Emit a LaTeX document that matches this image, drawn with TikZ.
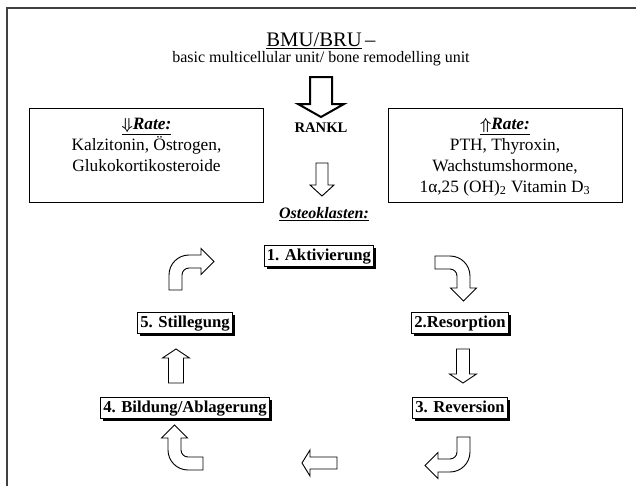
\documentclass[tikz,border=0pt]{standalone}
\usepackage{fontspec}
\setmainfont{Liberation Serif}
\usepackage{tikz}
\usetikzlibrary{arrows,shapes,shadows,calc}
\tikzstyle{stage}=[draw,line width=1pt,fill=white,font=\bfseries\fontsize{12.5}{14}\selectfont,inner xsep=2pt,inner ysep=2pt,text height=9pt,text depth=3pt,drop shadow={shadow xshift=2pt,shadow yshift=-2pt,fill=black,opacity=1}]
\tikzstyle{ratebox}=[draw,line width=0.6pt,minimum width=175.5pt,minimum height=70.5pt,inner sep=0pt]
\tikzstyle{ratetext}=[align=center,font=\fontsize{13}{15.8}\selectfont,inner sep=0pt,anchor=north]
\tikzstyle{blockarrow}=[draw,fill=white,line width=0.7pt,line join=miter]
\tikzstyle{frame}=[draw=black!75,line width=0.9pt]

% bent arrow: shaft goes up, turns right
\newcommand{\bentarrow}[2]{%
  \draw[blockarrow,shift={#1},rotate=#2] (0,0) -- (0,-15)
    arc[start angle=180,end angle=270,radius=20] -- (32,-35) -- (32,-41.5)
    -- (45,-28.5) -- (32,-15.5) -- (32,-22) -- (20,-22)
    arc[start angle=270,end angle=180,radius=7] -- (13,0) -- cycle;}
% straight arrow: pointing down from its shaft top
\newcommand{\stemarrow}[7][]{%
  \draw[blockarrow,#1,shift={#2},rotate=#3] (-#4/2,0) -- (-#4/2,#6) -- (-#5/2,#6)
    -- (0,#6+#7) -- (#5/2,#6) -- (#4/2,#6) -- (#4/2,0) -- cycle;}

\begin{document}
\begin{tikzpicture}[x=0.75pt,y=-0.75pt]
		\useasboundingbox (0,0) rectangle (636,486);
		\draw[frame] (7,486) -- (7,8) -- (636,8);
		% top
		\node (title) at (321,41) {\fontsize{15.5}{18}\selectfont\underline{BMU/BRU}\,--};
		\node (subtitle) at (321,59) {\fontsize{12}{14}\selectfont basic multicellular unit/ bone remodelling unit};
		\stemarrow[line width=1.5pt]{(321,77)}{0}{22}{46}{27}{13}
		\node (rankl) at (321,128) {\bfseries\fontsize{11}{13}\selectfont RANKL};
		% rates
		\node[ratebox] (lowrate) at (146.5,155) {};
		\node[ratetext] (lowtext) at ($(lowrate.north)+(0,10)$) {\underline{{\boldmath$\Downarrow$}\textbf{\textit{Rate:}}}\\Kalzitonin, Östrogen,\\Glukokortikosteroide};
		\node[ratebox] (highrate) at (505,155) {};
		\node[ratetext] (hightext) at ($(highrate.north)+(0,10)$) {\underline{{\boldmath$\Uparrow$}\textbf{\textit{Rate:}}}\\PTH, Thyroxin,\\Wachstumshormone,\\1α,25 (OH)\textsubscript{2} Vitamin D\textsubscript{3}};
		\stemarrow{(322,163)}{0}{12}{24}{22}{11}
		\node (osteo) at (324,214) {\bfseries\itshape\fontsize{12}{14}\selectfont\underline{Osteoklasten:}};
		% cycle
		\node[stage] (akt) at (319,256) {1. Aktivierung};
		\node[stage] (res) at (460,323) {2.Resorption};
		\node[stage] (rev) at (460,408) {3. Reversion};
		\node[stage] (bil) at (185,408) {4. Bildung/Ablagerung};
		\node[stage] (sti) at (185,323) {5. Stillegung};
		% connection
		\bentarrow{(435,256)}{-90}
		\stemarrow{(463,349)}{0}{13}{27}{25}{9}
		\bentarrow{(470,437)}{180}
		\stemarrow{(337,463)}{-90}{12}{26}{27}{8}
		\bentarrow{(203,470)}{90}
		\stemarrow{(176,383)}{180}{15}{27}{25}{9}
		\bentarrow{(169,290)}{0}
	\end{tikzpicture}
\end{document}
